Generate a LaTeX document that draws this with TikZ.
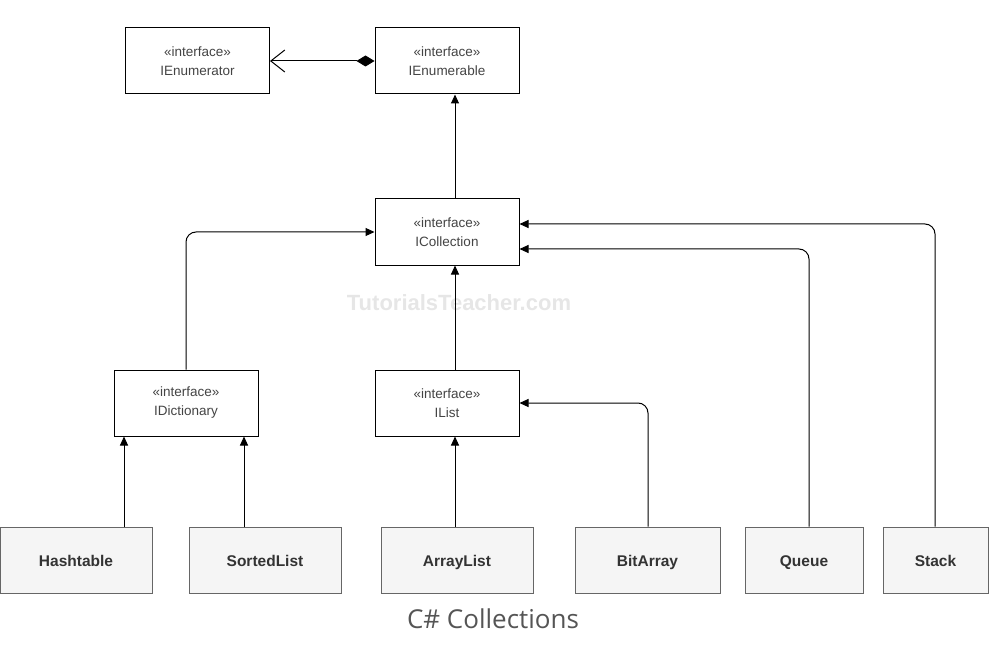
\documentclass[tikz,border=0pt]{standalone}
\usepackage{fontspec}
\setmainfont{Liberation Sans}
\newfontfamily\captionfont{Open Sans}
\usetikzlibrary{arrows.meta}
\definecolor{txtgray}{HTML}{333333}
\definecolor{ifacetext}{HTML}{444444}
\definecolor{classfill}{HTML}{F5F5F5}
\definecolor{classborder}{HTML}{666666}
\definecolor{wmgray}{HTML}{E6E6E6}
\definecolor{capgray}{HTML}{555555}
\begin{document}
\begin{tikzpicture}[x=1pt,y=-1pt,
  iface/.style={draw=black, line width=1pt, fill=white, inner sep=0pt,
    minimum width=144pt, minimum height=66pt, align=center,
    font=\fontsize{13.5}{19}\selectfont, text=ifacetext},
  cls/.style={draw=classborder, line width=1pt, fill=classfill, inner sep=0pt,
    minimum height=66pt, text height=13pt, text depth=1pt,
    font=\fontsize{15.5}{18}\selectfont\bfseries, text=txtgray},
  conn/.style={line width=1pt, rounded corners=10pt, -{Triangle[length=9pt,width=8pt]}},
  ]
\useasboundingbox (0,0) rectangle (996,663);

% watermark
\node[text=wmgray, font=\fontsize{22}{24}\selectfont\bfseries] (wm) at (459,303) {TutorialsTeacher.com};

% interfaces
\node[iface] (enumerator) at (197.5,61) {«interface»\\IEnumerator};
\node[iface] (enumerable) at (447,61) {«interface»\\IEnumerable};
\node[iface] (collection) at (447,232) {«interface»\\ICollection};
\node[iface] (dictionary) at (186,403) {«interface»\\IDictionary};
\node[iface] (ilist) at (447,403) {«interface»\\IList};

% concrete classes
\node[cls, minimum width=152pt] (hashtable) at (76,560) {Hashtable};
\node[cls, minimum width=152pt] (sortedlist) at (265,560) {SortedList};
\node[cls, minimum width=152pt] (arraylist) at (457,560) {ArrayList};
\node[cls, minimum width=145pt] (bitarray) at (647.5,560) {BitArray};
\node[cls, minimum width=118pt] (queue) at (804,560) {Queue};
\node[cls, minimum width=105pt] (stack) at (935.5,560) {Stack};

% caption
\node[text=capgray, font=\captionfont\fontsize{26}{30}\selectfont] (caption) at (493,619) {C\# Collections};

% composition IEnumerable -> IEnumerator
\draw[line width=1pt, {Diamond[length=18pt,width=11pt]}-{Straight Barb[length=14pt,width=22pt,line width=1pt]}]
  (enumerable.west) -- (enumerator.east);

% inheritance links
\draw[conn] (collection.north -| 455,0) -- (enumerable.south -| 455,0);
\draw[conn] (ilist.north -| 455,0) -- (collection.south -| 455,0);
\draw[conn] (dictionary.north) |- (collection.west);
\draw[conn] (queue.north -| 809,0) |- (collection.east |- 0,249);
\draw[conn] (stack.north -| 935,0) |- (collection.east |- 0,224);
\draw[conn] (hashtable.north -| 124,0) -- (dictionary.south -| 124,0);
\draw[conn] (sortedlist.north -| 244,0) -- (dictionary.south -| 244,0);
\draw[conn] (arraylist.north -| 455,0) -- (ilist.south -| 455,0);
\draw[conn] (bitarray.north -| 648,0) |- (ilist.east);
\end{tikzpicture}
\end{document}
